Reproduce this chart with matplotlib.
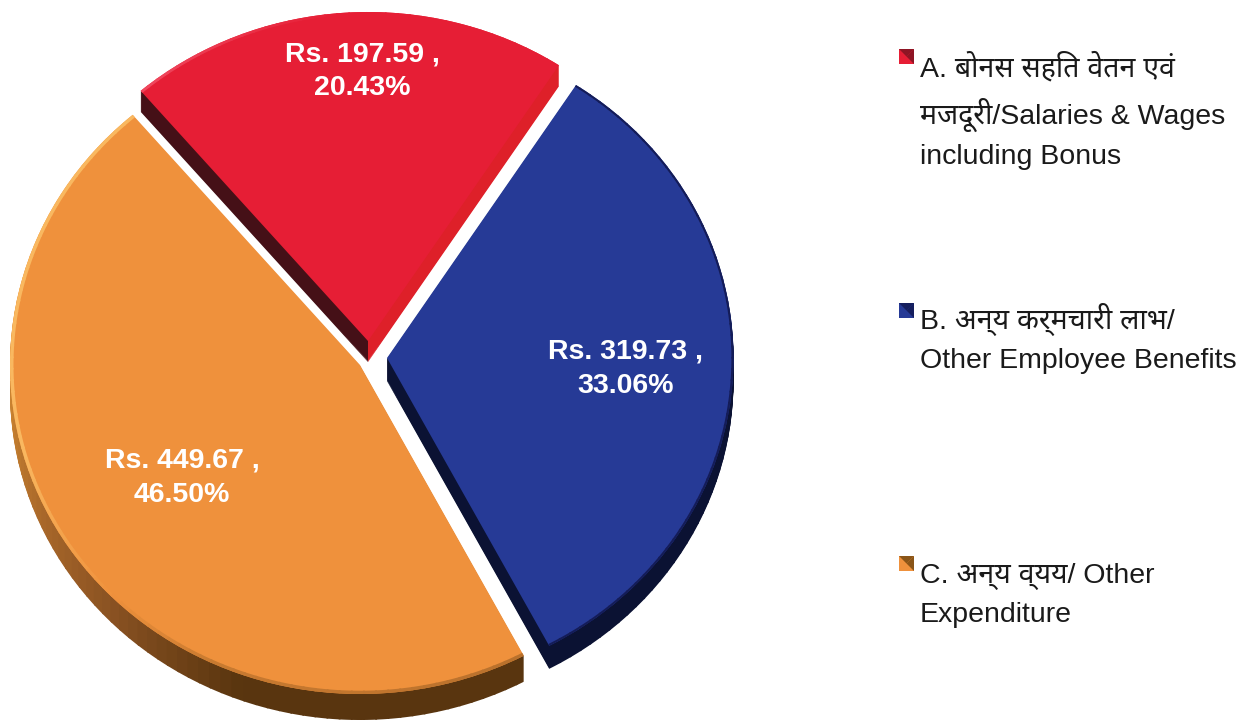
import matplotlib
matplotlib.use("Agg")
import matplotlib.pyplot as plt
from matplotlib.patches import Wedge, Polygon
from matplotlib.colors import to_rgb
import numpy as np

# valeurs
categories = ["A", "B", "C"]
amounts = [197.59, 319.73, 449.67]
percents = [20.43, 33.06, 46.50]

legend_lines = [
    ["A. बोनस सहित वेतन एवं", "मजदूरी/Salaries & Wages", "including Bonus"],
    ["B. अन्य कर्मचारी लाभ/", "Other Employee Benefits"],
    ["C. अन्य व्यय/ Other", "Expenditure"],
]

top_colors = ["#E61E35", "#263A96", "#EF913C"]
corner_colors = ["#8E1524", "#151E5E", "#8A5518"]

W, H = 1249, 721
PX_X, PX_Y = 350.0, 329.0   # pixels pour un rayon
CX, CY = 360.0, 365.0


def dx(px):
    return (px - CX) / PX_X


def dy(py):
    return (CY - py) / PX_Y


def blend(t, stops, cols):
    rgb = np.array([to_rgb(c) for c in cols])
    return tuple(np.interp(t, stops, rgb[:, j]) for j in range(3))


def side_color(i, theta):
    # couleur de la tranche selon l'angle
    t = theta % 360
    if i == 0:
        return "#DE2029" if t < 93 else "#451017"
    if i == 1:
        return "#0B1233"
    return blend(t, [130, 185, 205, 225, 250, 300],
                 ["#D08A38", "#C98230", "#A9682A", "#8A5222", "#59350F", "#59350F"])


def rim_color(i, theta):
    t = theta % 360
    if i == 0:
        return blend(t, [60, 95, 131], ["#E61E35", "#E61E35", "#F04A60"])
    if i == 1:
        return "#141C58"
    return blend(t, [131, 195, 225, 245, 300],
                 ["#F9B860", "#F9B860", "#EF913C", "#C87A30", "#B8702C"])


plt.rcParams["font.family"] = ["Liberation Sans", "Noto Sans", "DejaVu Sans"]

fig = plt.figure(figsize=(W / 100, H / 100), dpi=100, facecolor="white")
ax = fig.add_axes([0, 0, 1, 1])

wedges, _ = ax.pie(amounts, colors=top_colors, startangle=130.5, counterclock=False,
                   radius=1.0, wedgeprops={"linewidth": 0, "zorder": 5})
ax.set_aspect("auto")
ax.set_xlim(dx(0), dx(W))
ax.set_ylim(dy(H), dy(0))

# apex de chaque part et rayon
apex = [(368, 341), (387, 358), (360, 365)]
radius = [1.0, 0.99, 1.0]
depth = [21, 23, 26]
rim_width = [0.008, 0.006, 0.010]

for i, w in enumerate(wedges):
    ax_, ay_ = apex[i]
    w.set_center((dx(ax_), dy(ay_)))
    w.set_radius(radius[i])

    # epaisseur et lisere, par secteurs d'angle
    edges = np.arange(w.theta1, w.theta2, 2.0).tolist() + [w.theta2]
    for a, b in zip(edges[:-1], edges[1:]):
        b2 = min(b + 0.3, w.theta2)
        col = side_color(i, (a + b) / 2)
        for k in range(1, depth[i] + 1):
            ax.add_patch(Wedge((dx(ax_), dy(ay_ + k)), radius[i], a, b2,
                               facecolor=col, linewidth=0, zorder=2))
        ax.add_patch(Wedge((dx(ax_), dy(ay_)), radius[i], a, b2, width=rim_width[i],
                           facecolor=rim_color(i, (a + b) / 2), linewidth=0, zorder=6))

# etiquettes des parts
label_pos = [(362, 71), (626, 369), (182, 478)]
for i, (a, p) in enumerate(zip(amounts, percents)):
    ax.text(dx(label_pos[i][0]), dy(label_pos[i][1]), f"Rs. {a:.2f} ,\n{p:.2f}%",
            color="white", fontsize=20.5, fontweight="bold", ha="center", va="center",
            linespacing=1.4, zorder=8)

# legende
legend_y = [[67, 115, 157], [319, 361], [576, 615]]
marker_top = [49, 303, 556]
for i, lines in enumerate(legend_lines):
    x0, x1 = 899, 914
    y0, y1 = marker_top[i], marker_top[i] + 15
    xm, ym = (x0 + x1) / 2, (y0 + y1) / 2
    ax.add_patch(Polygon([(dx(x0), dy(y0)), (dx(x1), dy(y0)), (dx(x1), dy(y1)), (dx(x0), dy(y1))],
                         facecolor=top_colors[i], linewidth=0, zorder=5))
    ax.add_patch(Polygon([(dx(x1), dy(y0)), (dx(x1), dy(y1)), (dx(xm), dy(ym))],
                         facecolor=corner_colors[i], linewidth=0, zorder=6))
    ax.add_patch(Polygon([(dx(x0), dy(y0)), (dx(x1), dy(y0)), (dx(xm), dy(ym))],
                         facecolor=corner_colors[i], linewidth=0, zorder=6))
    for line, y in zip(lines, legend_y[i]):
        ax.text(dx(920), dy(y), line, color="#1A1A1A", fontsize=20.5, ha="left", va="center")

fig.savefig("out.png", dpi=100)
